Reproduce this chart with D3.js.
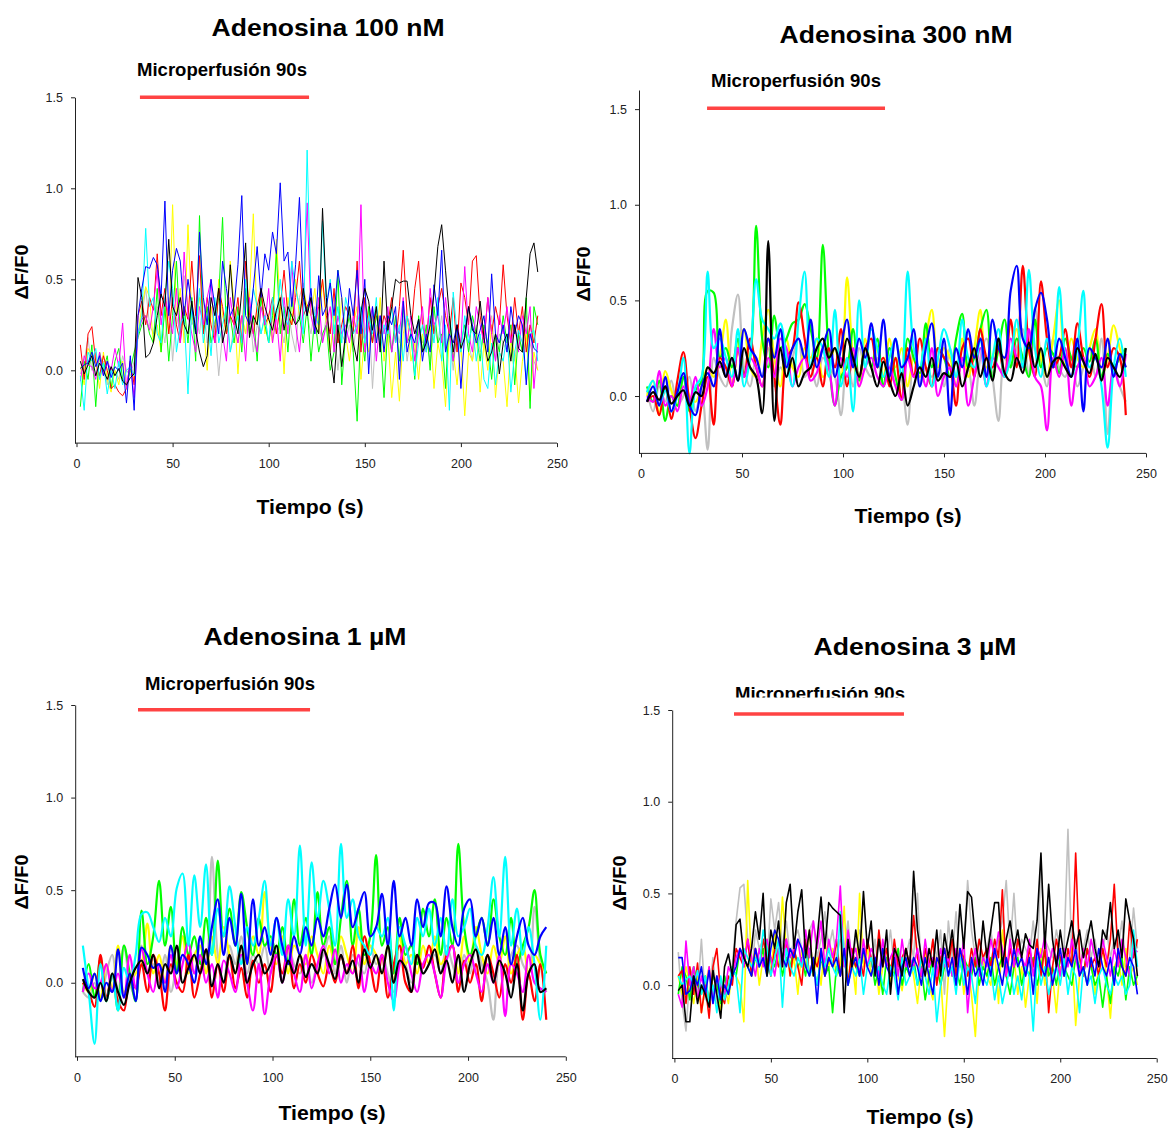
<!DOCTYPE html>
<html>
<head>
<meta charset="utf-8">
<script src="https://cdn.jsdelivr.net/npm/d3@7"></script>
<style>
  body { margin: 0; background: #fff; }
  svg { display: block; }
  text { font-family: "Liberation Sans", Arial, sans-serif; }
</style>
</head>
<body>
<svg id="chart" width="1171" height="1130"></svg>
<script>
// trace colours, in drawing order
var traceColors = ['#c0c0c0', '#ffff00', '#00ff00', '#ff0000', '#ff00ff', '#00ffff', '#0000ff', '#000000']
var xTicks = [0, 50, 100, 150, 200, 250]
var yTicks = [0, 0.5, 1.0, 1.5]

// microperfusion window (s)
var pulse100nM = [33, 121]
var pulse300nM = [32.7, 120.8]
var pulse1uM = [31.2, 119.2]
var pulse3uM = [30.9, 119]

// ΔF/F0 x100, order gray, yellow, green, red, magenta, cyan, blue, black
// 100 nM: one value every 2 s from t = 2 s
var a100nM = [
  [-2,5,18,0,10,-5,5,-8,2,0, -5,8,0,-3,5,20,30,45,25,20, 35,28,15,40,5,30,20,52,35,25, 30,20,40,15,35,25,-3,20,30,10,
   25,15,30,20,35,10,25,20,30,15, 30,20,25,15,35,20,10,40,48,30, 20,35,25,15,30,10,25,0,20,15, 25,10,30,15,20,35,-10,25,15,30,
   20,10,25,15,30,5,20,10,25,15, 20,5,25,15,30,10,20,0,25,10, 20,15,5,25,10,20,15,30,5,20, 15,10,25,5,20,10,30,15,5,0],
  [2,-8,12,8,5,-10,10,-5,-12,0, -8,5,-10,0,-5,20,35,46,40,15, 25,10,35,20,91,30,45,15,80,30, 20,40,25,0,35,15,50,30,20,60,
   35,-2,30,20,40,86,25,45,20,30, 15,72,35,-2,40,25,50,30,45,35, 30,45,20,50,25,10,30,15,40,20, 5,25,35,-5,20,10,30,15,40,5,
   20,-15,10,-17,20,30,5,15,-5,20, 10,25,-10,15,5,-20,20,10,-8,15, -25,10,5,20,-12,15,0,25,-15,10, 5,-20,15,10,-18,5,20,-17,10,0],
  [-20,5,-5,14,-20,10,0,8,-10,5, 12,-5,-8,0,10,18,25,30,20,15, 45,10,35,5,30,60,20,35,15,40, 5,85,20,35,15,25,40,84,20,30,
   15,35,10,45,20,30,5,40,25,15, 30,64,20,35,10,40,25,30,15,35, 5,30,10,20,25,0,10,55,-8,20, 30,10,-28,25,5,35,15,30,20,-15,
   25,10,30,5,35,15,20,-5,30,10, 25,0,35,15,20,-10,30,5,20,15, 25,10,30,20,5,25,15,-5,20,10, 30,15,25,-8,20,10,40,-21,35,25],
  [14,-5,20,24,5,-3,8,0,-10,-8, -12,-14,-10,5,-8,30,38,25,40,33, 64,30,45,20,40,25,15,35,28,60, 30,63,20,40,25,15,45,35,20,30,
   25,40,15,60,30,20,35,45,25,30, 40,20,35,55,30,25,40,60,30,35, 40,25,35,50,30,20,45,15,25,35, 30,20,60,10,40,25,15,35,20,30,
   25,40,15,35,66,30,20,45,60,25, 15,40,20,35,45,30,20,40,10,48, 40,25,60,63,30,15,40,20,35,25, 58,30,15,40,20,35,10,25,15,30],
  [-6,8,3,2,-5,10,-3,5,0,12, 2,26,-10,5,-15,20,28,30,22,35, 55,25,40,30,20,45,15,65,30,20, 10,35,25,40,50,15,30,20,5,40,
   25,15,30,5,40,20,10,35,25,45, 15,30,5,40,20,60,25,10,35,92, 30,20,40,15,25,35,10,30,20,25, 15,30,20,91,10,25,35,5,30,20,
   35,10,25,20,40,15,30,5,20,35, 10,45,25,30,15,40,20,5,25,15, 57,20,10,35,25,15,40,20,5,30, 20,35,15,25,10,30,20,35,-10,15],
  [-3,-22,10,5,12,-5,4,-13,0,-10, 5,-8,0,2,-3,20,30,78,35,40, 20,15,40,60,45,10,25,30,-13,35, 20,45,15,30,8,40,15,25,35,10,
   20,30,15,50,25,45,35,20,30,15, 40,28,50,30,25,60,45,35,20,121, 40,30,25,82,35,50,20,35,15,40, 30,20,25,35,15,30,20,40,10,25,
   20,35,15,25,5,30,20,-3,15,25, 10,30,15,40,5,25,-22,43,20,10, 30,15,25,5,20,-5,-10,15,-8,10, 5,20,-12,10,22,15,-5,20,22,5],
  [1,3,4,10,2,8,-3,5,-4,2, 0,4,-18,8,-22,30,45,57,56,62, 58,40,93,30,55,67,60,30,50,35, 20,76,40,25,50,35,20,60,45,30,
   35,58,96,30,25,45,68,40,64,55, 76,64,103,60,65,35,58,95,40,30, 45,20,52,30,35,48,30,55,40,15, 45,30,55,20,50,-2,35,15,30,10,
   30,25,35,-5,38,10,20,15,28,5, 20,10,47,30,66,10,20,15,25,-10, 20,35,25,15,22,30,10,53,20,15, 25,10,35,20,30,25,-8,20,12,10],
  [5,-2,3,8,-3,4,0,-5,2,-3, 1,-6,-8,-4,-2,51,40,7,9,15, 30,42,35,72,35,30,40,25,20,38, 22,10,2,8,40,30,45,15,25,58,
   30,20,44,70,18,30,25,45,35,28, 22,33,40,22,35,30,25,28,45,30, 40,25,20,89,40,10,-7,25,2,20, 35,15,5,32,45,38,22,35,10,60,
   22,35,50,48,49,49,30,20,28,10, 15,25,42,68,80,55,30,10,25,12, 18,35,22,20,38,18,5,10,20,-2, 15,20,5,25,12,10,40,64,70,54]
]

// 300 nM: one value every 3 s from t = 3 s
var a300nM = [
  [3,-8,5,-3,8,-5,0,10,-8,2, -28,20,10,5,35,53,15,5,20,10, 25,5,15,10,20,30,10,15,5,20, 15,10,-10,20,5,25,15,10,20,5,
   15,20,10,-15,25,5,15,10,20,5, 25,10,20,15,-5,20,30,10,-13,20, 15,25,35,10,46,20,5,30,15,10, 20,5,15,25,10,30,-20,15,5,-3],
  [0,8,-10,13,3,-5,10,0,-3,5, 15,10,20,40,5,25,35,15,10,30, 45,20,5,30,15,10,25,20,30,10, 15,25,10,62,20,5,30,15,25,10,
   30,15,25,5,20,10,30,45,15,25, 20,5,30,10,25,45,15,20,30,10, 20,35,15,25,40,20,10,30,50,15, 30,20,15,25,35,10,20,37,25,15],
  [5,-3,8,-13,0,-5,10,-8,3,8, 55,54,20,25,15,30,12,20,89,30, 15,42,25,30,38,40,48,35,20,79, 20,-5,10,15,35,8,25,15,30,5,
   25,10,-2,30,20,12,38,15,25,20, 10,30,43,15,20,35,45,10,25,40, 15,30,20,10,40,15,25,22,12,30, 20,15,25,18,30,10,22,15,20,25],
  [-3,0,-10,5,-12,8,23,-5,-22,-5, 10,-15,20,15,5,25,10,30,15,5, 30,10,-15,20,25,49,30,10,20,5, 25,15,35,5,20,10,25,30,15,20,
   5,20,-2,25,10,30,15,5,25,20, 15,-5,25,30,10,35,20,15,25,10, 40,15,68,25,10,60,30,15,20,35, 15,38,20,10,30,48,15,25,20,-10],
  [0,-3,13,-5,0,-8,5,-3,10,-5, 5,35,15,20,5,25,10,20,15,5, 20,10,30,25,5,15,20,8,12,25, 15,-5,20,10,25,5,15,20,10,5,
   15,5,-2,20,10,15,5,25,0,10, 15,5,20,-5,10,25,5,20,15,10, 30,20,15,35,10,5,-18,20,10,25, -5,15,20,5,10,20,-5,15,5,22],
  [2,8,-5,3,-8,0,20,-30,5,10, 65,25,30,20,10,35,5,20,61,40, 35,30,38,20,5,40,65,15,30,25, 10,45,5,20,-8,50,15,35,25,10,
   20,30,10,65,25,15,30,5,20,35, 25,10,40,20,15,30,5,20,35,10, 20,40,15,66,25,10,30,15,57,20, 10,25,55,15,20,5,-27,15,30,10],
  [-3,5,-5,10,-8,2,12,-5,-10,5, 12,5,35,10,20,8,35,25,20,10, 30,20,35,15,25,30,20,40,15,25, 35,10,25,40,15,30,20,38,15,40,
   10,30,15,20,35,5,25,38,10,30, -10,25,15,35,20,30,10,40,25,20, 55,68,30,25,45,54,40,15,30,20, 10,30,-8,25,20,15,30,10,22,15],
  [-3,2,-2,5,-4,0,3,-5,2,0, 15,12,18,10,20,8,25,15,10,-9, 81,-13,25,10,20,5,12,15,25,30, 20,25,15,30,20,10,25,15,5,18,
   8,0,12,-5,5,15,10,20,8,12, 10,18,5,15,25,10,20,8,30,12, 8,20,12,28,15,25,10,18,20,15, 10,25,18,12,22,8,20,15,10,25]
]

// 1 µM: one value every 3 s from t = 3 s
var a1uM = [
  [-5,-8,0,-10,5,15,-5,20,0,-8, 20,5,10,0,15,-5,10,25,15,5, 20,10,68,15,0,20,10,25,5,15, 10,20,5,15,0,20,10,5,15,0,
   10,15,25,5,20,0,15,10,5,20, 10,15,5,-5,20,10,0,15,5,10, 15,5,20,10,0,15,5,20,10,0, -20,10,5,15,20,10,5,41,10,-5],
  [0,-5,5,-8,10,-3,20,-5,0,5, 10,32,5,15,0,20,10,25,5,15, 20,5,25,10,30,15,5,20,10,25, 15,49,20,10,25,5,20,15,10,25,
   15,5,20,10,25,15,5,30,10,20, 15,5,20,0,25,10,15,5,20,10, 25,10,15,20,5,25,10,30,15,5, 20,10,25,5,15,20,5,15,10,5],
  [-5,10,-8,13,-10,5,-15,20,5,-10, 39,10,25,55,20,41,5,30,15,25, 10,35,15,66,25,40,20,49,30,15, 35,20,25,15,30,10,45,20,35,15,
   49,20,30,10,35,55,20,40,15,25, 69,20,30,5,35,15,20,10,40,25, 45,15,35,20,75,30,15,25,35,20, 45,25,15,35,10,20,30,50,15,5],
  [0,-5,-13,15,-8,5,-10,-15,5,-3, 10,-5,15,5,-15,10,0,-5,15,-8, 5,18,-8,10,-5,15,-3,8,-8,12, 0,10,-5,15,5,20,-3,10,0,15,
   5,-2,10,0,15,5,20,-3,25,10, -5,15,-8,10,20,0,-5,15,8,20, 5,-8,15,20,-5,12,0,10,-10,15, 5,-8,10,0,15,-20,5,-10,10,-20],
  [-5,5,-3,0,10,-5,5,-8,15,-3, 18,5,-5,10,0,15,-3,10,22,5, 15,0,10,-8,12,5,-5,15,0,-15, 10,-17,5,15,0,20,5,-5,15,-3,
   10,20,5,18,0,10,5,15,-5,10, 5,15,0,-10,10,20,5,-5,10,15, 5,-8,12,20,0,10,15,5,-5,10, 0,15,-18,10,5,-5,15,0,-3,-5],
  [20,-5,-33,10,-10,5,-15,8,0,15, 37,38,30,22,35,25,51,59,20,58, 30,64,15,40,25,52,30,10,30,20, 35,55,20,35,15,45,25,74,20,65,
   35,55,40,20,75,35,45,25,20,15, 30,25,35,-15,30,20,10,35,25,40, 20,35,15,45,25,30,40,20,15,30, 57,25,68,20,40,15,30,10,-20,20],
  [8,-3,5,-10,0,-5,18,-8,5,-10, 19,15,8,10,-5,20,5,15,10,0, 25,10,30,45,15,35,20,48,10,45, 20,30,15,35,20,10,25,15,30,20,
   35,25,40,53,35,53,30,40,49,25, 30,48,20,55,25,35,20,45,30,43, 43,25,52,30,20,40,45,25,35,20, 35,15,30,10,25,35,20,15,25,30],
  [2,-5,-8,0,-10,5,-5,-12,0,8, 12,5,15,-3,10,5,20,0,8,15, 5,18,-2,10,0,15,5,20,0,10, 15,5,10,20,0,12,5,15,3,10,
   5,18,10,2,15,5,12,0,18,8, 15,5,20,0,12,8,-5,15,5,10, 18,5,12,0,15,-5,10,18,5,15, 0,12,5,-8,10,-15,5,10,-5,-3]
]

// 3 µM: one value every 2 s from t = 2 s
var a3uM = [
  [18,-10,-25,5,10,-5,25,-8,-5,15, -10,-8,5,-5,10,35,53,55,25,5, 30,20,25,10,47,30,45,20,35,15, 25,30,20,10,30,35,15,25,40,20,
   30,15,25,20,35,10,25,30,15,20, 10,25,5,20,15,30,10,20,5,15, 25,15,50,5,20,10,25,15,30,-5, 35,15,40,10,20,57,30,15,25,10,
   20,30,15,25,35,57,20,50,15,25, 20,15,35,10,66,25,20,15,30,20, 20,85,15,25,10,20,30,15,25,10, 20,30,15,25,20,35,10,15,42,20],
  [5,-5,10,0,-10,5,-15,0,10,-5, 5,-15,0,-10,10,5,0,-20,57,10, 20,0,15,25,5,30,10,48,20,5, 15,-5,20,10,30,5,15,0,25,10,
   20,5,10,43,0,15,-5,50,10,20, 5,15,-5,10,20,0,15,5,-3,10, 15,5,-10,10,20,0,-8,15,5,-28, 5,15,0,20,-5,10,-5,-28,10,15,
   5,0,20,-10,30,10,5,15,-5,10, -12,5,15,-10,20,0,10,5,-15,10, 5,15,20,-22,5,10,0,15,-5,10, 20,5,-18,10,15,0,20,5,10,0],
  [-5,10,5,-8,10,0,-5,5,-10,5, 0,-10,5,-5,10,5,20,15,10,5, 15,10,20,5,15,10,20,5,15,10, 20,10,15,5,20,10,0,15,5,10,
   -15,10,5,20,0,15,10,5,20,10, 15,0,10,-5,15,10,5,20,0,10, 5,15,0,10,-8,5,15,10,0,10, 15,5,10,0,15,10,5,15,0,10,
   5,15,0,10,15,5,-5,10,15,0, 10,5,15,0,10,20,5,10,0,15, 10,5,0,15,10,5,20,10,0,5, -12,5,-10,10,5,15,-8,10,0,5],
  [5,8,-10,10,-5,12,-15,0,-18,10, 20,-5,-10,5,0,20,15,10,25,5, 20,10,25,15,5,20,10,15,25,5, 20,10,0,25,5,15,10,20,5,15,
   10,25,5,15,0,20,10,15,5,25, 15,5,30,10,20,5,25,10,15,20, 10,38,15,5,20,10,25,0,15,20, 10,25,5,20,15,5,20,10,25,15,
   20,10,25,15,52,5,20,10,25,15, 5,20,10,25,5,20,-15,10,25,15, 5,20,10,72,15,5,20,10,15,5, 20,10,25,55,15,10,5,35,15,25],
  [-5,-12,24,0,10,-8,5,-5,10,-10, 5,0,-5,10,5,15,20,10,25,15, 5,20,10,25,15,5,20,10,25,15, 20,25,10,30,15,35,20,35,10,25,
   15,25,54,10,30,15,20,5,25,10, 20,15,5,25,10,15,20,5,25,10, 15,10,20,5,25,10,15,5,20,10, 15,5,20,10,25,-15,10,20,5,15,
   10,25,15,29,20,5,25,10,20,15, 10,25,5,20,15,27,10,20,15,5, 20,10,25,15,5,20,10,25,15,10, 25,15,5,20,10,25,15,5,20,18],
  [5,0,3,5,0,8,-5,5,-10,0, -15,5,-8,0,10,5,-15,20,15,10, 15,10,30,20,5,15,25,-12,20,10, 5,15,10,20,5,10,0,15,10,20,
   10,5,40,15,0,10,5,15,-5,10, 15,5,10,0,-5,10,5,-8,15,0, 5,10,0,15,5,-5,10,-20,0,15, 5,10,-5,15,0,10,5,-10,15,5,
   0,10,-8,5,-10,0,10,-5,5,-8, 10,5,-25,15,0,10,-5,5,10,0, 15,-5,10,5,-15,10,0,5,-10,5, 10,0,-5,5,0,5,-5,0,30,10],
  [15,15,-5,-3,5,0,10,-5,8,-10, 5,-8,0,-5,5,10,20,15,10,5, 20,10,15,5,20,30,25,15,10,20, 15,25,20,10,5,15,-10,20,5,15,
   10,15,5,20,0,10,15,5,20,10, 5,15,0,20,10,5,15,-5,10,15, 5,15,10,0,15,5,-5,15,10,20, 5,15,0,20,10,-5,15,5,10,0,
   15,5,20,10,0,15,5,20,10,15, 5,15,-5,20,10,5,15,0,10,20, 5,15,10,20,5,10,0,15,5,20, 10,5,15,0,20,10,5,15,10,-5],
  [-3,0,-20,-20,5,-10,0,-5,-12,8, -5,-18,10,17,5,33,36,15,10,20, 40,25,50,5,30,20,35,10,45,55, 20,40,52,15,30,5,25,48,20,45,
   42,40,38,-15,25,10,30,15,51,20, 35,5,25,10,30,-5,20,15,5,20, 10,62,30,15,5,20,10,30,5,28, 15,30,10,44,20,51,48,25,10,35,
   15,30,45,45,10,25,35,20,30,15, 28,22,20,35,72,20,55,25,10,30, 15,25,35,20,30,15,25,35,20,10, 30,25,45,20,30,15,47,35,25,5]
]

var panels = [
  { title: 'Adenosina 100 nM', series: a100nM, t0: 2, dt: 2, pulse: pulse100nM, lw: 1, curve: d3.curveLinear,
    x0: 76.5, x1: 557, axisX: 75, yDom: [-0.4, 1.5], yRange: [443.1, 97.3],
    titleX: 328, titleY: 36, titleW: 233, microX: 137, microY: 76, barY: 1.5,
    yLab: [28, 272], xLab: [310, 514] },
  { title: 'Adenosina 300 nM', series: a300nM, t0: 3, dt: 3, pulse: pulse300nM, lw: 2.2, curve: d3.curveCatmullRom,
    x0: 641, x1: 1146, axisX: 639, yDom: [-0.3, 1.6], yRange: [453.4, 90],
    titleX: 896, titleY: 43, titleW: 233, microX: 711, microY: 87, barY: 1.505,
    yLab: [590, 274], xLab: [908, 523] },
  { title: 'Adenosina 1 \u00b5M', series: a1uM, t0: 3, dt: 3, pulse: pulse1uM, lw: 2.2, curve: d3.curveCatmullRom,
    x0: 77, x1: 565.8, axisX: 75.2, yDom: [-0.4, 1.5], yRange: [1056.8, 705],
    titleX: 305, titleY: 645, titleW: 203, microX: 145, microY: 690, barY: 1.475,
    yLab: [28, 882], xLab: [332, 1120] },
  { title: 'Adenosina 3 \u00b5M', series: a3uM, t0: 2, dt: 2, pulse: pulse3uM, lw: 1.6, curve: d3.curveLinear,
    x0: 674.4, x1: 1156.7, axisX: 672.2, yDom: [-0.4, 1.5], yRange: [1058.5, 710],
    titleX: 915, titleY: 655, titleW: 203, microX: 735, microY: 700, microClip: 697.5, barY: 1.478,
    yLab: [626, 883], xLab: [920, 1124] }
]

var svg = d3.select('#chart')

panels.forEach(function(p, pi){
  var g = svg.append('g')
    , x = d3.scaleLinear().domain([0, 250]).range([p.x0, p.x1])
    , y = d3.scaleLinear().domain(p.yDom).range(p.yRange)

  var line = d3.line().curve(p.curve)
    .x(function(d, i){ return x(p.t0 + i * p.dt) })
    .y(function(d){ return y(d / 100) })

  g.selectAll('path.trace').data(p.series)
    .enter().append('path').attr('class', 'trace')
      .attr('d', line)
      .attr('fill', 'none')
      .attr('stroke', function(d, i){ return traceColors[i] })
      .attr('stroke-width', p.lw)
      .attr('stroke-linejoin', 'round')

  // axes
  var gx = g.append('g')
    .attr('transform', 'translate(0,' + p.yRange[0] + ')')
    .call(d3.axisBottom(x).tickValues(xTicks).tickSize(4).tickPadding(12).tickSizeOuter(0))
  gx.select('.domain').remove()
  gx.append('line')
    .attr('x1', p.axisX).attr('x2', p.x1).attr('y1', 0).attr('y2', 0)
    .attr('stroke', 'currentColor')

  var gy = g.append('g')
    .attr('transform', 'translate(' + p.axisX + ',0)')
    .call(d3.axisLeft(y).tickValues(yTicks).tickFormat(d3.format('.1f'))
      .tickSize(4).tickPadding(8).tickSizeOuter(0))

  ;[gx, gy].forEach(function(a){
    a.attr('font-size', 12.5).attr('font-family', '"Liberation Sans", Arial, sans-serif')
      .style('color', '#222')
  })

  // microperfusion bar and label
  g.append('line')
    .attr('x1', x(p.pulse[0])).attr('x2', x(p.pulse[1]))
    .attr('y1', y(p.barY)).attr('y2', y(p.barY))
    .attr('stroke', '#ff4343').attr('stroke-width', 3.5)

  var micro = g.append('text')
    .attr('x', p.microX).attr('y', p.microY)
    .attr('font-size', 18.5).attr('font-weight', 'bold')
    .attr('textLength', 170).attr('lengthAdjust', 'spacingAndGlyphs')
    .text('Microperfusi\u00f3n 90s')
  if (p.microClip) {
    svg.append('clipPath').attr('id', 'mclip' + pi)
      .append('rect').attr('x', p.microX - 5).attr('y', p.microY - 30)
      .attr('width', 200).attr('height', p.microClip - (p.microY - 30))
    micro.attr('clip-path', 'url(#mclip' + pi + ')')
  }

  g.append('text')
    .attr('x', p.titleX).attr('y', p.titleY)
    .attr('text-anchor', 'middle')
    .attr('font-size', 24).attr('font-weight', 'bold')
    .attr('textLength', p.titleW).attr('lengthAdjust', 'spacingAndGlyphs')
    .text(p.title)

  g.append('text')
    .attr('transform', 'translate(' + p.yLab + ') rotate(-90)')
    .attr('text-anchor', 'middle')
    .attr('font-size', 18).attr('font-weight', 'bold')
    .attr('textLength', 55).attr('lengthAdjust', 'spacingAndGlyphs')
    .text('\u0394F/F0')

  g.append('text')
    .attr('x', p.xLab[0]).attr('y', p.xLab[1])
    .attr('text-anchor', 'middle')
    .attr('font-size', 20).attr('font-weight', 'bold')
    .attr('textLength', 107).attr('lengthAdjust', 'spacingAndGlyphs')
    .text('Tiempo (s)')
})
</script>
</body>
</html>
